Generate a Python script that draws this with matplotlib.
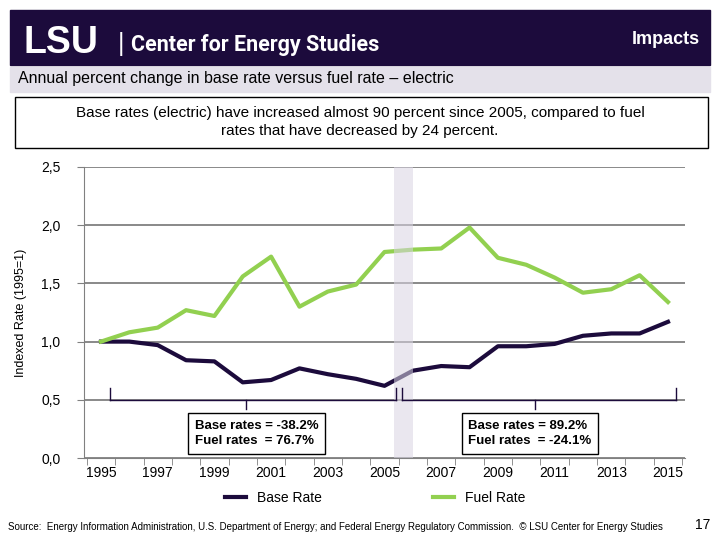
import matplotlib
matplotlib.use("Agg")
import matplotlib.pyplot as plt
from matplotlib.patches import Rectangle

years = list(range(1995, 2016))
base_rate = [1.0, 1.0, 0.97, 0.84, 0.83, 0.65, 0.67, 0.77, 0.72, 0.68, 0.62,
             0.75, 0.79, 0.78, 0.96, 0.96, 0.98, 1.05, 1.07, 1.07, 1.17]
fuel_rate = [1.0, 1.08, 1.12, 1.27, 1.22, 1.56, 1.73, 1.30, 1.43, 1.49, 1.77,
             1.79, 1.80, 1.98, 1.72, 1.66, 1.55, 1.42, 1.45, 1.57, 1.34]
tick_labels = [str(y) for y in range(1995, 2016, 2)]

W, H = 720, 540
fig = plt.figure(figsize=(7.2, 5.4), dpi=100)
FF = ['Liberation Sans', 'DejaVu Sans']

def fx(x): return x / W
def fy(y): return 1 - y / H

# header banner
fig.patches.append(Rectangle((fx(10), fy(65)), fx(700), 55 / H, transform=fig.transFigure,
                             color='#1c0b3c', zorder=0))
fig.text(fx(24), fy(43), 'LSU', color='white', fontsize=27, fontweight='heavy', va='center', family=FF)
fig.text(fx(118), fy(44), '|', color='white', fontsize=18, va='center', family=FF)
fig.text(fx(131), fy(45), 'Center for Energy Studies', color='white', fontsize=15.5, fontweight='bold',
         va='center', family=['Roboto', 'DejaVu Sans'], stretch='condensed')
fig.text(fx(700), fy(39), 'Impacts', color='white', fontsize=13, fontweight='bold', va='center', ha='right', family=FF)
# subtitle bar
fig.patches.append(Rectangle((fx(10), fy(92)), fx(700), 25 / H, transform=fig.transFigure,
                             color='#e4e1ea', zorder=0))
fig.text(fx(18), fy(79), 'Annual percent change in base rate versus fuel rate \u2013 electric',
         fontsize=11.5, va='center', family=FF)
# box
fig.patches.append(Rectangle((fx(15), fy(148)), fx(693), 51 / H, transform=fig.transFigure,
                             facecolor='white', edgecolor='black', lw=1, zorder=0))
fig.text(fx(360), fy(122), 'Base rates (electric) have increased almost 90 percent since 2005, compared to fuel\n'
         'rates that have decreased by 24 percent.', fontsize=11, ha='center', va='center',
         family=FF, linespacing=1.3)

ax = fig.add_axes([fx(84), fy(458), fx(685 - 84), (458 - 167) / H])
x = list(range(len(years)))
ax.plot(x, base_rate, color='#1c0b3c', lw=3, label='Base Rate', zorder=3)
ax.plot(x, fuel_rate, color='#92d050', lw=3, label='Fuel Rate', zorder=3)
ax.axvspan(10.35, 11.0, color='#d9d5e3', alpha=0.55, lw=0, zorder=4)
ax.set_xlim(-0.6, 20.6)
ax.set_ylim(0, 2.5)
ax.set_yticks([0, 0.5, 1.0, 1.5, 2.0, 2.5])
ax.set_yticklabels(['0,0', '0,5', '1,0', '1,5', '2,0', '2,5'], family=FF, fontsize=10)
ax.set_xticks(list(range(0, 21, 2)))
ax.set_xticklabels(tick_labels, family=FF, fontsize=10)
ax.set_xticks([i - 0.5 for i in range(22)], minor=True)
ax.tick_params(axis='x', which='major', length=0, pad=6)
ax.tick_params(axis='x', which='minor', length=5, color='#808080')
ax.tick_params(axis='y', length=5, color='#808080', pad=12)
ax.grid(axis='y', color='#808080', lw=1.3)
for s in ['top', 'right']:
    ax.spines[s].set_visible(False)
for s in ['left', 'bottom']:
    ax.spines[s].set_color('#808080')
ax.set_axisbelow(True)
ax.set_ylabel('Indexed Rate (1995=1)', family=FF, fontsize=9, labelpad=10)

# braces
def brace(x0, x1, xm):
    kw = dict(color='#1c0b3c', lw=1, zorder=5)
    ax.plot([x0, x0], [0.6, 0.5], **kw)
    ax.plot([x1, x1], [0.6, 0.5], **kw)
    ax.plot([x0, x1], [0.5, 0.5], **kw)
    ax.plot([xm, xm], [0.5, 0.42], **kw)
brace(0.3, 10.4, 5.1)
brace(10.6, 20.3, 15.3)
box = dict(boxstyle='square,pad=0.5', fc='white', ec='black', lw=1)
ax.text(3.3, 0.21, 'Base rates = -38.2%\nFuel rates  = 76.7%', fontsize=9.5, family=FF, va='center',
        fontweight='bold', bbox=box, zorder=6, linespacing=1.4)
ax.text(12.95, 0.21, 'Base rates = 89.2%\nFuel rates  = -24.1%', fontsize=9.5, family=FF, va='center',
        fontweight='bold', bbox=box, zorder=6, linespacing=1.4)

fig.legend(loc='center', bbox_to_anchor=(fx(375), fy(498)), ncol=2, frameon=False,
           prop={'family': FF, 'size': 10}, handlelength=1.5, columnspacing=8)

fig.text(fx(8), fy(527), 'Source:  Energy Information Administration, U.S. Department of Energy; and Federal Energy Regulatory Commission.  \u00a9 LSU Center for Energy Studies',
         fontsize=7, va='center', family=FF)
fig.text(fx(710), fy(525), '17', fontsize=10, va='center', ha='right', family=FF)

fig.savefig('out.png', dpi=100)
